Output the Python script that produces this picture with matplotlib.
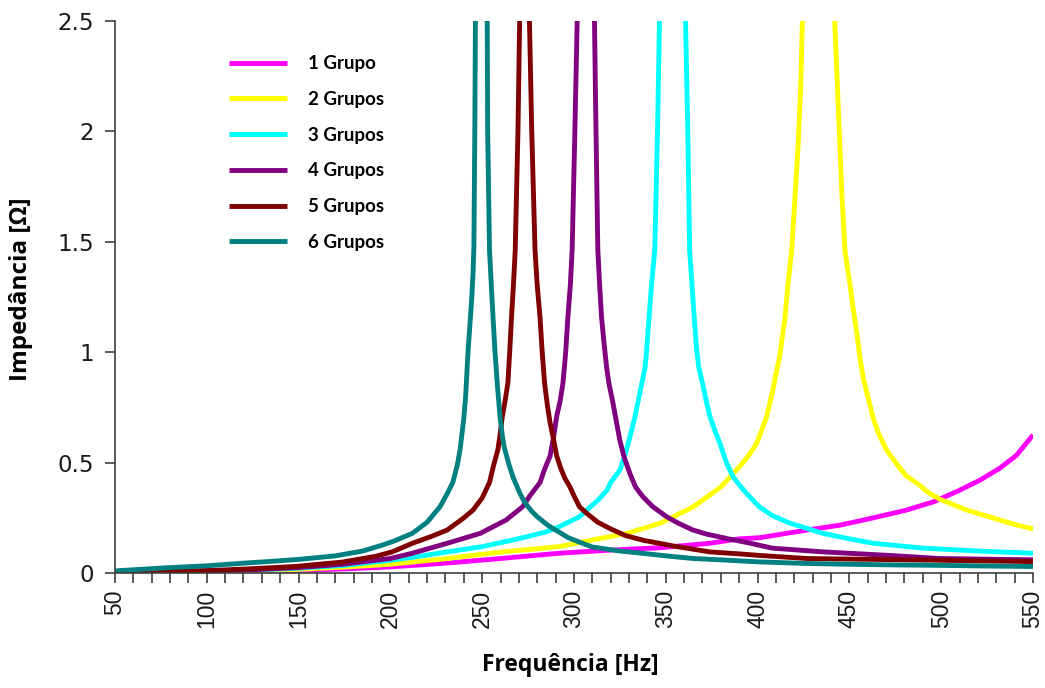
import numpy as np
import matplotlib
matplotlib.use("Agg")
import matplotlib.pyplot as plt
import matplotlib.ticker as mticker

# 1 Grupo
f1 = [50, 80, 100, 125, 150, 175, 200, 230, 260, 292, 320, 347, 374, 390, 401,
      427, 445, 463, 481, 496, 510, 521, 532, 541, 550]
z1 = [0.0, 0.003, 0.005, 0.008, 0.012, 0.019, 0.028, 0.045, 0.066, 0.09, 0.104,
      0.115, 0.135, 0.155, 0.16, 0.195, 0.217, 0.25, 0.285, 0.323, 0.375, 0.42,
      0.475, 0.533, 0.625]

# 2 Grupos
f2 = [50, 80, 100, 125, 150, 175, 200, 230, 260, 280, 292, 310, 329, 347, 365,
      380, 390, 395, 399.5, 402, 405, 408.4, 410, 412, 415, 416.6, 418.6, 420,
      422, 423.5, 424.7, 433, 441.5, 443, 444.5, 446, 447.6, 449, 450.3, 452,
      454, 456, 457.4, 460, 463, 466, 470, 477, 481, 488, 492, 499, 514, 528,
      540, 550]
z2 = [0.001, 0.004, 0.006, 0.01, 0.017, 0.027, 0.04, 0.065, 0.095, 0.11, 0.12,
      0.15, 0.18, 0.226, 0.30, 0.39, 0.48, 0.53, 0.587, 0.64, 0.71, 0.83, 0.90,
      0.98, 1.16, 1.31, 1.46, 1.65, 1.92, 2.2, 2.6, 6.0, 2.6, 2.3, 2.0, 1.7,
      1.46, 1.38, 1.31, 1.2, 1.09, 0.96, 0.89, 0.80, 0.70, 0.63, 0.56, 0.48,
      0.44, 0.40, 0.37, 0.335, 0.285, 0.25, 0.22, 0.20]

# 3 Grupos
f3 = [50, 80, 100, 125, 150, 175, 200, 215, 231, 250, 267, 285, 292, 303, 307,
      313, 318, 320, 325, 328, 330.5, 333, 335, 337, 338.7, 339.5, 340.3, 342.3,
      344, 345.5, 346.8, 354, 360.5, 362, 363, 364.8, 365.8, 366.8, 368, 370,
      372, 374, 376.5, 379.5, 383, 386.6, 390, 394, 397.5, 401, 408, 417.6,
      435.6, 450, 463, 490, 520, 550]
z3 = [0.002, 0.005, 0.008, 0.014, 0.022, 0.035, 0.058, 0.075, 0.096, 0.12, 0.15,
      0.187, 0.21, 0.255, 0.285, 0.33, 0.375, 0.41, 0.466, 0.54, 0.617, 0.70,
      0.78, 0.86, 0.93, 1.0, 1.09, 1.31, 1.46, 2.0, 2.6, 6.0, 2.6, 2.0, 1.46,
      1.24, 1.12, 1.01, 0.93, 0.86, 0.78, 0.71, 0.65, 0.587, 0.50, 0.436, 0.40,
      0.36, 0.33, 0.30, 0.26, 0.226, 0.18, 0.155, 0.135, 0.113, 0.10, 0.09]

# 4 Grupos
f4 = [50, 80, 100, 125, 150, 174, 192, 200, 212, 231, 249, 263, 272, 276,
      281.5, 284, 287, 289, 290.6, 292.5, 294, 295.5, 296.7, 298, 299, 300.5,
      302, 306.5, 311, 312, 313, 314, 315, 316.5, 317.8, 319, 321, 323, 325,
      327.5, 330.5, 333.5, 337.6, 343, 350.5, 357, 364.8, 372, 383, 395, 408,
      435.6, 472, 499, 550]
z4 = [0.003, 0.006, 0.009, 0.015, 0.025, 0.04, 0.058, 0.066, 0.09, 0.135, 0.18,
      0.24, 0.30, 0.35, 0.41, 0.47, 0.53, 0.62, 0.71, 0.78, 0.86, 1.0, 1.16,
      1.3, 1.46, 2.0, 2.6, 6.0, 2.6, 2.0, 1.46, 1.3, 1.16, 1.03, 0.93, 0.86,
      0.78, 0.69, 0.60, 0.52, 0.45, 0.39, 0.345, 0.30, 0.255, 0.225, 0.195,
      0.177, 0.157, 0.137, 0.113, 0.096, 0.08, 0.066, 0.06]

# 5 Grupos
f5 = [50, 80, 103, 125, 148, 174, 192, 201, 212, 222, 231, 240, 245, 250, 254,
      256, 258.6, 259.8, 261, 262.5, 264, 265, 266, 267, 268, 269.5, 270.6, 273,
      275.5, 277, 278.8, 280, 281.5, 282.7, 284, 285.5, 287, 289, 290.6, 293,
      295, 297.8, 300, 303, 307, 313, 320, 328, 338, 356, 374, 390, 401, 427,
      463, 500, 550]
z5 = [0.004, 0.008, 0.012, 0.02, 0.03, 0.05, 0.076, 0.096, 0.135, 0.165, 0.195,
      0.25, 0.285, 0.34, 0.41, 0.48, 0.56, 0.63, 0.71, 0.78, 0.86, 1.0, 1.16,
      1.3, 1.46, 2.0, 2.6, 6.0, 2.6, 2.0, 1.46, 1.3, 1.16, 1.0, 0.86, 0.76,
      0.68, 0.60, 0.53, 0.47, 0.43, 0.39, 0.35, 0.30, 0.27, 0.23, 0.20, 0.17,
      0.148, 0.12, 0.096, 0.087, 0.08, 0.066, 0.062, 0.058, 0.052]

# 6 Grupos
f6 = [50, 80, 100, 120, 135, 150, 170, 185, 195, 202, 212, 220, 227, 231, 234,
      236.5, 238, 239, 240, 241, 242.3, 243.3, 244.3, 245, 245.5, 246, 246.4,
      249.5, 252.7, 253, 254, 255.5, 257, 258.3, 259.7, 261, 262, 263.3, 265,
      267, 270.6, 272.5, 275, 277, 280, 283, 286, 292, 297, 303, 310, 325, 338,
      350, 365, 380, 400, 425, 450, 475, 500, 525, 550]
z6 = [0.01, 0.025, 0.033, 0.045, 0.053, 0.062, 0.078, 0.10, 0.125, 0.145, 0.18,
      0.23, 0.30, 0.36, 0.41, 0.49, 0.56, 0.63, 0.70, 0.80, 1.0, 1.12, 1.24,
      1.35, 1.48, 2.0, 2.6, 6.0, 2.6, 2.0, 1.46, 1.22, 1.0, 0.85, 0.71, 0.62,
      0.57, 0.53, 0.48, 0.43, 0.36, 0.33, 0.30, 0.28, 0.255, 0.235, 0.215,
      0.185, 0.16, 0.14, 0.118, 0.10, 0.089, 0.078, 0.066, 0.06, 0.051, 0.044,
      0.04, 0.037, 0.035, 0.032, 0.03]

labels = ["1 Grupo", "2 Grupos", "3 Grupos", "4 Grupos", "5 Grupos", "6 Grupos"]
colors = ["#ff00ff", "#ffff00", "#00ffff", "#800080", "#800000", "#008080"]

fig = plt.figure(figsize=(10.45, 6.88), dpi=100)
ax = fig.add_axes([0.110, 0.167, 0.8785, 0.803])

series = [(f1, z1), (f2, z2), (f3, z3), (f4, z4), (f5, z5), (f6, z6)]
for (f, z), lab, c in zip(series, labels, colors):
    ax.plot(f, z, color=c, lw=3.5, label=lab, solid_capstyle="butt",
            solid_joinstyle="round")

ax.set_xlim(50, 550)
ax.set_ylim(0, 2.5)

# eixos
for s in ["top", "right"]:
    ax.spines[s].set_visible(False)
for s in ["left", "bottom"]:
    ax.spines[s].set_color("#404040")
    ax.spines[s].set_linewidth(1.2)

ax.set_xticks(np.arange(50, 551, 50))
ax.xaxis.set_minor_locator(mticker.MultipleLocator(10))
ax.set_yticks(np.arange(0, 2.51, 0.5))
ax.yaxis.set_major_formatter(mticker.FuncFormatter(lambda v, p: "%g" % v))
ax.tick_params(axis="both", which="both", direction="out", length=7,
               width=1.2, color="#404040", labelsize=16.5, labelcolor="#1a1a1a")
ax.tick_params(axis="x", which="major", rotation=90, pad=5)
ax.tick_params(axis="y", pad=8)
for t in ax.get_xticklabels():
    t.set_family("Liberation Sans")
for t in ax.get_yticklabels():
    t.set_family("DejaVu Sans")

ax.set_xlabel("Frequência [Hz]", fontsize=16.5, fontweight="bold",
              family="Open Sans")
ax.set_ylabel("Impedância [Ω]", fontsize=17.5, fontweight="bold",
              family="Open Sans")
ax.xaxis.set_label_coords(0.4956, -0.145)
ax.yaxis.set_label_coords(-0.0893, 0.514)

leg = ax.legend(loc="upper left", bbox_to_anchor=(0.106, 0.968), frameon=False,
                handlelength=3.1, handletextpad=1.1, labelspacing=1.0,
                prop={"family": "Lato", "weight": "bold", "size": 13.5})

fig.savefig("out.png", dpi=100)
